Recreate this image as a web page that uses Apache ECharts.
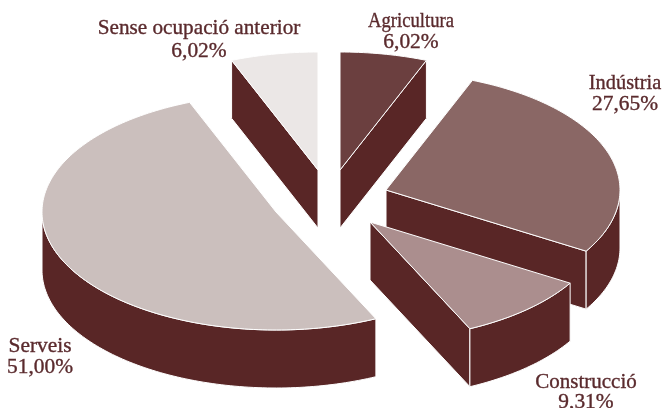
<!DOCTYPE html>
<html><head><meta charset="utf-8">
<style>html,body{margin:0;padding:0;background:#fff}#c{width:665px;height:408px}</style>
<script src="https://cdn.jsdelivr.net/npm/echarts@6/dist/echarts.min.js"></script>
</head><body><div id="c"></div>
<script>
var categories = ['Agricultura','Indústria','Construcció','Serveis','Sense ocupació anterior'];
var values = [6.02, 27.65, 9.31, 51.00, 6.02];
var valueLabels = ['6,02%','27,65%','9,31%','51,00%','6,02%'];

// Presentation only
var topColors = ['#6b3f3f','#8a6765','#ab8e8e','#cbbfbd','#ebe7e6'];
var wallColor = '#592626', textColor = '#5a2a2d';
var RX = 234, RY = 118, DEPTH = 58;
var apex = [[340,170],[386,190],[370,222],[276,212],[318,170]];
var nameAnchor = [[411,21],[625,83],[586,382],[40,346],[199,28]];
var valueAnchor = [[411,42],[625,104],[586,402],[40,367],[199,51]];
var nameScale = [0.89,0.97,1.0,1.02,1.01];
var valueScale = 1.02;
var paintRank = [1,2,4,3,0];

var total = values.reduce(function(a,b){return a+b;},0);
function startAngle(i){var s=0;for(var k=0;k<i;k++)s+=values[k];return s/total*Math.PI*2;}
function pt(c,t,d){return [c[0]+RX*Math.sin(t), c[1]-RY*Math.cos(t)+(d||0)];}
function arc(c,a,b,d){var n=Math.max(2,Math.ceil((b-a)/0.02)),o=[];for(var j=0;j<=n;j++)o.push(pt(c,a+(b-a)*j/n,d));return o;}
function poly(points,fill){return {type:'polygon',shape:{points:points},style:{fill:fill,stroke:'#fff',lineWidth:1}};}
function label(str,pos,sx){
  return {type:'text',x:pos[0],y:pos[1],scaleX:sx,
    style:{text:str,fill:textColor,stroke:textColor,lineWidth:0.35,align:'center',verticalAlign:'middle',
    font:'21px "Liberation Serif"'}};
}
function radialVisible(c,t,mid){
  var d=pt(c,t), m=pt(c,mid), dx=d[0]-c[0];
  if(Math.abs(dx)<1e-6) return false;
  return m[1] < c[1]+(d[1]-c[1])/dx*(m[0]-c[0]);
}
function renderSlice(i){
  return function(){
    var c=apex[i], a=startAngle(i), b=startAngle(i+1), mid=(a+b)/2, kids=[];
    [a,b].forEach(function(t){
      if(radialVisible(c,t,mid)){
        var p=pt(c,t);
        kids.push(poly([c,p,[p[0],p[1]+DEPTH],[c[0],c[1]+DEPTH]],wallColor));
      }
    });
    var fa=Math.max(a,Math.PI/2), fb=Math.min(b,Math.PI*1.5);
    if(fb>fa) kids.push(poly(arc(c,fa,fb,0).concat(arc(c,fa,fb,DEPTH).reverse()),wallColor));
    kids.push(poly([c].concat(arc(c,a,b,0)),topColors[i]));
    kids.push(label(categories[i],nameAnchor[i],nameScale[i]));
    kids.push(label(valueLabels[i],valueAnchor[i],valueScale));
    return {type:'group',children:kids};
  };
}
var series=categories.map(function(name,i){
  return {type:'custom',name:name,coordinateSystem:'none',z:paintRank[i]+2,silent:true,animation:false,
    data:[[values[i]]],renderItem:renderSlice(i)};
});
var chart=echarts.init(document.getElementById('c'),null,{renderer:'canvas'});
chart.setOption({animation:false,backgroundColor:'#fff',series:series});
</script></body></html>
